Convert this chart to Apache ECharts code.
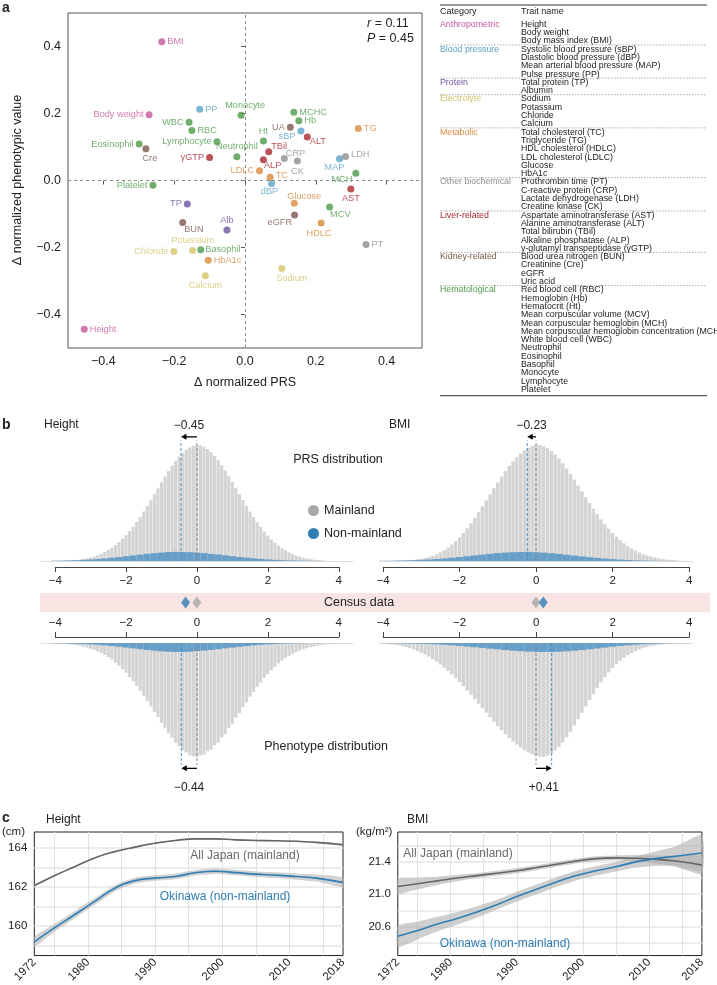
<!DOCTYPE html>
<html><head><meta charset="utf-8"><title>Figure</title>
<script src="https://cdn.jsdelivr.net/npm/echarts@6.0.0/dist/echarts.min.js"></script>
<style>html,body{margin:0;padding:0;background:#fff;}#chart{width:717px;height:985px;}</style>
</head><body><div id="chart"></div>
<script>
// ---------------- Panel a data ----------------
const catNames = ['Anthropometric','Blood pressure','Protein','Electrolyte','Metabolic','Other biochemical','Liver-related','Kidney-related','Hematological'];
const catColors = ['#c4579a','#5aa3c5','#6d52a1','#d3c46c','#da8a3c','#8e8e8e','#a9282c','#7c574d','#4e9a48'];
const traitNames = ['Height','Body weight','BMI','sBP','dBP','MAP','PP','TP','Alb','Sodium','Potassium','Chloride','Calcium','TC','TG','HDLC','LDLC','Glucose','HbA1c','PT','CRP','LDH','CK','AST','ALT','TBil','ALP','γGTP','BUN','Cre','eGFR','UA','RBC','Hb','Ht','MCV','MCH','MCHC','WBC','Neutrophil','Eosinophil','Basophil','Monocyte','Lymphocyte','Platelet'];
const traitFullNames = ['Height','Body weight','Body mass index (BMI)','Systolic blood pressure (sBP)','Diastolic blood pressure (dBP)','Mean arterial blood pressure (MAP)','Pulse pressure (PP)','Total protein (TP)','Albumin','Sodium','Potassium','Chloride','Calcium','Total cholesterol (TC)','Triglyceride (TG)','HDL cholesterol (HDLC)','LDL cholesterol (LDLC)','Glucose','HbA1c','Prothrombin time (PT)','C-reactive protein (CRP)','Lactate dehydrogenase (LDH)','Creatine kinase (CK)','Aspartate aminotransferase (AST)','Alanine aminotransferase (ALT)','Total bilirubin (TBil)','Alkaline phosphatase (ALP)','γ-glutamyl transpeptidase (γGTP)','Blood urea nitrogen (BUN)','Creatinine (Cre)','eGFR','Uric acid','Red blood cell (RBC)','Hemoglobin (Hb)','Hematocrit (Ht)','Mean corpuscular volume (MCV)','Mean corpuscular hemoglobin (MCH)','Mean corpuscular hemoglobin concentration (MCHC)','White blood cell (WBC)','Neutrophil','Eosinophil','Basophil','Monocyte','Lymphocyte','Platelet'];
const traitCat = [0,0,0,1,1,1,1,2,2,3,3,3,3,4,4,4,4,4,4,5,5,5,5,6,6,6,6,6,7,7,7,7,8,8,8,8,8,8,8,8,8,8,8,8,8];
const deltaPRS = [-0.454,-0.271,-0.235,0.158,0.075,0.267,-0.128,-0.163,-0.051,0.104,-0.148,-0.201,-0.112,0.071,0.320,0.215,0.041,0.139,-0.104,0.342,0.111,0.284,0.148,0.299,0.176,0.067,0.052,-0.100,-0.176,-0.280,0.140,0.128,-0.150,0.152,0.052,0.239,0.313,0.138,-0.158,-0.023,-0.299,-0.125,-0.011,-0.079,-0.260];
const deltaPheno = [-0.444,0.196,0.414,0.148,-0.009,0.065,0.213,-0.070,-0.148,-0.263,-0.209,-0.212,-0.284,0.010,0.155,-0.127,0.029,-0.068,-0.238,-0.191,0.066,0.072,0.058,-0.025,0.130,0.086,0.062,0.069,-0.125,0.095,-0.103,0.159,0.149,0.178,0.118,-0.079,0.022,0.204,0.174,0.071,0.109,-0.207,0.195,0.116,-0.014];
const scatterTicks = [-0.4,-0.2,0,0.2,0.4];
const statR = '0.11', statP = '0.45';

// ---------------- Panel b data ----------------
const grayBins = [-4.0,-3.9,-3.8,-3.7,-3.6,-3.5,-3.4,-3.3,-3.2,-3.1,-3.0,-2.9,-2.8,-2.7,-2.6,-2.5,-2.4,-2.3,-2.2,-2.1,-2.0,-1.9,-1.8,-1.7,-1.6,-1.5,-1.4,-1.3,-1.2,-1.1,-1.0,-0.9,-0.8,-0.7,-0.6,-0.5,-0.4,-0.3,-0.2,-0.1,0.0,0.1,0.2,0.3,0.4,0.5,0.6,0.7,0.8,0.9,1.0,1.1,1.2,1.3,1.4,1.5,1.6,1.7,1.8,1.9,2.0,2.1,2.2,2.3,2.4,2.5,2.6,2.7,2.8,2.9,3.0,3.1,3.2,3.3,3.4,3.5,3.6,3.7,3.8,3.9,4.0];
const blueBins = [-4.0,-3.8,-3.6,-3.4,-3.2,-3.0,-2.8,-2.6,-2.4,-2.2,-2.0,-1.8,-1.6,-1.4,-1.2,-1.0,-0.8,-0.6,-0.4,-0.2,0.0,0.2,0.4,0.6,0.8,1.0,1.2,1.4,1.6,1.8,2.0,2.2,2.4,2.6,2.8,3.0,3.2,3.4,3.6,3.8,4.0];
const heightPrsMainland = [0,0,0,0.3,0.4,0.6,0.9,1.2,1.7,2.3,3.0,3.9,5.0,6.3,7.8,9.5,11.5,13.8,16.3,19.2,22.3,25.8,29.6,33.6,38.0,42.6,47.4,52.4,57.5,62.6,67.8,72.8,77.6,82.2,86.3,90.0,93.2,95.9,97.9,99.3,100,99.6,98.4,96.5,93.8,90.6,86.8,82.6,78.0,73.2,68.2,63.0,57.8,52.6,47.5,42.6,37.9,33.4,29.3,25.4,21.9,18.7,15.8,13.3,11.0,9.1,7.4,6.0,4.8,3.7,2.9,2.2,1.6,1.2,0.8,0.5,0.3,0,0,0,0];
const heightPrsNonMainland = [0.3,0.4,0.5,0.7,1.0,1.3,1.7,2.2,2.8,3.4,4.1,4.8,5.5,6.2,6.8,7.3,7.7,7.9,7.8,7.6,7.3,6.8,6.2,5.6,4.9,4.2,3.5,2.9,2.3,1.8,1.4,1.0,0.7,0.5,0.4,0.3,0.2,0.1,0,0,0];
const bmiPrsMainland = [0,0,0,0,0.2,0.3,0.5,0.7,1.0,1.4,1.9,2.6,3.4,4.5,5.8,7.4,9.3,11.6,14.2,17.2,20.5,24.2,28.2,32.6,37.2,42.1,47.1,52.3,57.5,62.7,67.8,72.8,77.5,81.9,85.9,89.5,92.8,95.5,97.6,99.2,100,99.8,98.9,97.2,94.8,91.8,88.2,84.2,79.8,75.1,70.2,65.1,60.0,54.9,49.9,45.0,40.3,35.9,31.7,27.8,24.2,20.9,17.9,15.2,12.8,10.7,8.9,7.3,5.9,4.8,3.8,3.0,2.3,1.8,1.3,1.0,0.7,0.4,0.2,0,0];
const bmiPrsNonMainland = [0.2,0.3,0.4,0.5,0.7,1.0,1.3,1.7,2.2,2.8,3.4,4.1,4.8,5.5,6.2,6.8,7.3,7.6,7.8,7.9,7.6,7.2,6.7,6.1,5.4,4.7,4.0,3.3,2.7,2.1,1.6,1.2,0.9,0.6,0.4,0.3,0.2,0.1,0.1,0,0];
const heightPhenoMainland = [0.4,0.5,0.7,0.9,1.2,1.6,2.0,2.5,3.2,4.0,4.9,6.0,7.3,8.8,10.5,12.4,14.6,17.2,19.9,23.0,26.2,29.8,33.6,37.6,42.0,46.3,51.0,55.6,60.5,65.0,70.1,74.3,79.2,83.0,87.4,90.5,94.0,96.0,98.6,99.4,100,98.6,97.8,95.1,93.6,89.8,87.5,82.9,79.8,74.6,70.9,65.6,61.6,56.3,52.2,47.1,43.0,38.4,34.6,30.5,27.2,23.8,20.9,18.0,15.5,13.2,11.3,9.5,8.0,6.6,5.5,4.5,3.7,3.0,2.4,1.9,1.5,1.1,0.8,0.5,0.3];
const heightPhenoNonMainland = [0.2,0.3,0.5,0.7,0.9,1.2,1.6,2.1,2.7,3.3,4.0,4.7,5.4,6.1,6.8,7.3,7.7,7.9,7.9,7.6,7.2,6.7,6.1,5.4,4.7,4.0,3.3,2.7,2.1,1.6,1.2,0.9,0.6,0.4,0.3,0.2,0.1,0.1,0,0,0];
const bmiPhenoMainland = [0.5,0.8,1.1,1.5,2.0,2.7,3.5,4.5,5.6,6.9,8.4,10.1,12.0,14.1,16.4,18.9,21.6,24.5,27.6,30.9,34.3,37.9,41.6,45.4,49.3,53.2,57.2,61.2,65.1,69.0,72.8,76.5,80.0,83.3,86.4,89.2,91.8,94.1,96.1,97.8,99.1,99.9,99.8,98.8,97.0,94.5,91.2,87.3,82.8,77.8,72.5,67.0,61.3,55.6,50.0,44.6,39.4,34.5,30.0,25.8,22.0,18.6,15.6,13.0,10.7,8.8,7.1,5.7,4.5,3.6,2.8,2.2,1.7,1.3,1.0,0.7,0.5,0.4,0.3,0.2,0.1];
const bmiPhenoNonMainland = [0.1,0.2,0.3,0.4,0.5,0.7,0.9,1.2,1.6,2.0,2.5,3.1,3.7,4.3,5.0,5.6,6.2,6.8,7.2,7.6,7.8,7.9,7.9,7.7,7.3,6.8,6.2,5.5,4.8,4.0,3.3,2.6,2.0,1.5,1.1,0.8,0.5,0.3,0.2,0.1,0];
const grayBinWidth = 0.1, blueBinWidth = 0.2;
// mean shift of non-mainland vs mainland (mainland = 0)
const heightPrsShift = -0.45, bmiPrsShift = -0.23;
const heightPhenoShift = -0.44, bmiPhenoShift = 0.41;
const censusHeight = [0, -0.32];   // [mainland, non-mainland]
const censusBMI = [0, 0.19];

// ---------------- Panel c data ----------------
const years = [1972,1975,1978,1981,1984,1987,1990,1993,1996,1999,2002,2005,2008,2011,2014,2018];
const heightJapan = [162.07,162.57,163.03,163.48,163.80,164.03,164.23,164.37,164.45,164.45,164.40,164.37,164.35,164.33,164.27,164.15];
const heightJapanCI = [0.05,0.04,0.03,0.03,0.03,0.03,0.03,0.03,0.03,0.03,0.03,0.03,0.03,0.03,0.04,0.05];
const heightOkinawa = [159.2,159.91,160.58,161.26,161.93,162.32,162.45,162.53,162.72,162.80,162.73,162.65,162.60,162.53,162.45,162.23];
const heightOkinawaCI = [0.25,0.2,0.18,0.17,0.16,0.15,0.14,0.14,0.14,0.14,0.14,0.14,0.15,0.16,0.18,0.24];
const bmiJapan = [21.095,21.13,21.165,21.20,21.23,21.26,21.29,21.33,21.37,21.41,21.44,21.45,21.445,21.43,21.41,21.36];
const bmiJapanCI = [0.09,0.07,0.05,0.04,0.03,0.03,0.03,0.03,0.03,0.03,0.03,0.03,0.04,0.05,0.07,0.11];
const bmiOkinawa = [20.48,20.55,20.63,20.70,20.78,20.87,20.97,21.06,21.15,21.23,21.29,21.34,21.40,21.44,21.47,21.51];
const bmiOkinawaCI = [0.13,0.11,0.09,0.08,0.07,0.06,0.06,0.06,0.06,0.06,0.06,0.06,0.07,0.09,0.12,0.22];
const yearLabels = [1972,1980,1990,2000,2010,2018];
const yearGrid = [1975,1980,1985,1990,1995,2000,2005,2010,2015];
const heightTicks = [160,162,164];
const heightGrid = [159,160,161,162,163,164];
const bmiTicks = [20.6,21.0,21.4];
const bmiGrid = [20.4,20.6,20.8,21.0,21.2,21.4,21.6];

// ---------------- styling ----------------
const FF = 'Liberation Sans, Arial, Helvetica, sans-serif';
const GRAY_BAR = '#d4d4d4', BLUE_BAR = '#689fc9', BLUE = '#2e7db3', GRAY_DOT = '#a8a8a8';
const labelPlace = {
 'Height':['right',0,0],'Body weight':['left',0,0],'BMI':['right',0,0],
 'sBP':['left',0,6],'dBP':['bottom',-2,-2],'MAP':['bottom',-5,-1],'PP':['right',0,0],
 'TP':['left',0,0],'Alb':['top',0,0],
 'Sodium':['bottom',10,0],'Potassium':['top',0,0],'Chloride':['left',0,0],'Calcium':['bottom',0,0],
 'TC':['right',0,-2],'TG':['right',0,0],'HDLC':['bottom',-2,0],'LDLC':['left',0,0],'Glucose':['top',10,3],'HbA1c':['right',0,0],
 'PT':['right',0,0],'CRP':['right',-4,-5],'LDH':['right',0,-2],'CK':['bottom',0,0],
 'AST':['bottom',0,0],'ALT':['right',-3,5],'TBil':['right',-3,-5],'ALP':['right',-5,6],'γGTP':['left',0,0],
 'BUN':['right',-4,7],'Cre':['bottom',4,0],'eGFR':['left',3,7],'UA':['left',0,0],
 'RBC':['right',0,0],'Hb':['right',0,0],'Ht':['top',0,0],'MCV':['right',-5,7],'MCH':['left',2,6],'MCHC':['right',0,0],
 'WBC':['left',0,0],'Neutrophil':['top',0,0],'Eosinophil':['left',0,0],'Basophil':['right',-1,0],'Monocyte':['top',4,0],'Lymphocyte':['left',0,0],'Platelet':['left',0,0]
};
const minus = s => String(s).replace('-', '\u2212');
const fmt1 = v => minus(Number(v).toFixed(1));
const fmtInt = v => minus(Math.round(v));

const chart = echarts.init(document.getElementById('chart'), null, {renderer:'canvas'});

// grids
const HX = {min:-4.4, max:4.4, left:41, width:311.8};
const BX = {min:-4.1, max:4.1, left:379.2, width:313.6};
const PRS = {top:435.7, height:125.3, max:108};
const PHE = {top:643, height:126.5, max:111};
const grids = [
 {left:68, top:13, width:354, height:335, show:true, borderColor:'#555', borderWidth:1},          //0
 {left:HX.left, width:HX.width, top:PRS.top, height:PRS.height},                               //1
 {left:HX.left, width:HX.width, top:PRS.top, height:PRS.height},                               //2
 {left:BX.left, width:BX.width, top:PRS.top, height:PRS.height},                               //3
 {left:BX.left, width:BX.width, top:PRS.top, height:PRS.height},                               //4
 {left:HX.left, width:HX.width, top:PHE.top, height:PHE.height},                               //5
 {left:HX.left, width:HX.width, top:PHE.top, height:PHE.height},                               //6
 {left:BX.left, width:BX.width, top:PHE.top, height:PHE.height},                               //7
 {left:BX.left, width:BX.width, top:PHE.top, height:PHE.height},                               //8
 {left:55.3, width:283.5, top:547, height:20},                                                 //9
 {left:383.2, width:305.9, top:547, height:20},                                                //10
 {left:55.3, width:283.5, top:637, height:20},                                                 //11
 {left:383.2, width:305.9, top:637, height:20},                                                //12
 {left:40, top:593, width:670, height:19, show:true, backgroundColor:'#f9e4e4', borderWidth:0}, //13
 {left:HX.left, width:HX.width, top:593, height:19},                                           //14
 {left:BX.left, width:BX.width, top:593, height:19},                                           //15
 {left:34.3, top:832, width:308.7, height:126, show:true, borderColor:'#222', borderWidth:1},   //16
 {left:397.8, top:832, width:304.1, height:126, show:true, borderColor:'#222', borderWidth:1}   //17
];
const xAxes = [], yAxes = [];
// 0 scatter
xAxes.push({gridIndex:0, type:'value', min:-0.5, max:0.5, axisLine:{show:false}, splitLine:{show:false},
  axisTick:{show:true, length:4, lineStyle:{color:'#555'}, customValues:scatterTicks},
  axisLabel:{customValues:scatterTicks, formatter:fmt1, fontSize:12.5, color:'#222', margin:7, fontFamily:FF}});
yAxes.push({gridIndex:0, type:'value', min:-0.5, max:0.5, axisLine:{show:false}, splitLine:{show:false},
  axisTick:{show:true, length:4, lineStyle:{color:'#555'}, customValues:scatterTicks},
  axisLabel:{customValues:scatterTicks, formatter:fmt1, fontSize:12.5, color:'#222', margin:7, fontFamily:FF}});
// 1..8 histograms
const histDefs = [[HX,PRS,false,true],[HX,PRS,false,false],[BX,PRS,false,true],[BX,PRS,false,false],
                  [HX,PHE,true,true],[HX,PHE,true,false],[BX,PHE,true,true],[BX,PHE,true,false]];
histDefs.forEach((d,i)=>{
  const g = i+1;
  xAxes.push({gridIndex:g, type:'value', min:d[0].min, max:d[0].max,
    axisLine:{show:d[3], onZero:true, lineStyle:{color:'#dedede', width:1}}, axisTick:{show:false}, axisLabel:{show:false}, splitLine:{show:false}});
  yAxes.push({gridIndex:g, type:'value', min:0, max:d[1].max, inverse:d[2], show:false});
});
// 9..12 tick axes
[['bottom',9],['bottom',10],['top',11],['top',12]].forEach(([pos,g])=>{
  xAxes.push({gridIndex:g, type:'value', min:-4, max:4, interval:2, position:pos,
    axisLine:{show:true, onZero:false, lineStyle:{color:'#444', width:1}},
    axisTick:{show:true, length:5, lineStyle:{color:'#444'}},
    axisLabel:{fontSize:11.5, color:'#222', margin:8, formatter:fmtInt, fontFamily:FF}, splitLine:{show:false}});
  yAxes.push({gridIndex:g, type:'value', min:0, max:1, show:false});
});
// 13 census background
xAxes.push({gridIndex:13, type:'value', min:0, max:1, show:false}); yAxes.push({gridIndex:13, type:'value', min:0, max:1, show:false});
// 14,15 census diamonds
xAxes.push({gridIndex:14, type:'value', min:HX.min, max:HX.max, show:false}); yAxes.push({gridIndex:14, type:'value', min:0, max:1, show:false});
xAxes.push({gridIndex:15, type:'value', min:BX.min, max:BX.max, show:false}); yAxes.push({gridIndex:15, type:'value', min:0, max:1, show:false});
// 16,17 line charts
[[16,158.5,164.8,heightTicks,heightGrid,v=>String(Math.round(v))],[17,20.24,21.77,bmiTicks,bmiGrid,v=>Number(v).toFixed(1)]].forEach(([g,mn,mx,tk,gr,f])=>{
  xAxes.push({gridIndex:g, type:'value', min:1972, max:2018, axisLine:{show:false},
    axisTick:{show:false, customValues:yearGrid},
    splitLine:{show:true, lineStyle:{color:'#e2e2e2', width:1}},
    axisLabel:{customValues:yearLabels, formatter:v=>String(v), rotate:45, fontSize:11.5, color:'#222', margin:5, fontFamily:FF}});
  yAxes.push({gridIndex:g, type:'value', min:mn, max:mx, axisLine:{show:false},
    axisTick:{show:false, customValues:gr},
    splitLine:{show:true, lineStyle:{color:'#e6e6e6', width:1.6}},
    axisLabel:{customValues:tk, formatter:f, fontSize:11.5, color:'#222', margin:7, fontFamily:FF}});
});

// series
const series = [];
series.push({type:'scatter', xAxisIndex:0, yAxisIndex:0, symbolSize:7, z:5,
  data: traitNames.map((n,i)=>{
    const p = labelPlace[n] || ['right',0,0];
    const col = catColors[traitCat[i]];
    return {name:n, value:[deltaPRS[i], deltaPheno[i]], itemStyle:{color:col},
      label:{show:true, formatter:'{b}', position:p[0], offset:[p[1],p[2]], color:col, fontSize:9.2, distance:2, fontFamily:FF}};
  }),
  markLine:{silent:true, symbol:['none','none'], label:{show:false}, animation:false,
    lineStyle:{type:[3,3], color:'#8a8a8a', width:1}, data:[{xAxis:0},{yAxis:0}]}
});
// histogram bars drawn through the axes' scales
function histSeries(g, bins, vals, name, binW, frac, color) {
  series.push({type:'custom', name, xAxisIndex:g, yAxisIndex:g, silent:true, z:2,
    encode:{x:0, y:1},
    data: bins.map((b,i)=>[b, vals[i]]),
    renderItem:(params, api)=>{
      const x = api.value(0), v = api.value(1);
      if (!v) return null;
      const a = api.coord([x - binW*frac/2, 0]), b = api.coord([x + binW*frac/2, v]);
      return {type:'rect', shape:{x:a[0], y:Math.min(a[1],b[1]), width:b[0]-a[0], height:Math.abs(b[1]-a[1])}, style:{fill:color}};
    }});
}
histSeries(1, grayBins, heightPrsMainland, 'Mainland', grayBinWidth, 0.9, GRAY_BAR);
histSeries(2, blueBins, heightPrsNonMainland, 'Non-mainland', blueBinWidth, 1.0, BLUE_BAR);
histSeries(3, grayBins, bmiPrsMainland, 'Mainland', grayBinWidth, 0.9, GRAY_BAR);
histSeries(4, blueBins, bmiPrsNonMainland, 'Non-mainland', blueBinWidth, 1.0, BLUE_BAR);
histSeries(5, grayBins, heightPhenoMainland, 'Mainland', grayBinWidth, 0.9, GRAY_BAR);
histSeries(6, blueBins, heightPhenoNonMainland, 'Non-mainland', blueBinWidth, 1.0, BLUE_BAR);
histSeries(7, grayBins, bmiPhenoMainland, 'Mainland', grayBinWidth, 0.9, GRAY_BAR);
histSeries(8, blueBins, bmiPhenoNonMainland, 'Non-mainland', blueBinWidth, 1.0, BLUE_BAR);
// dashed mean lines
[[2,heightPrsShift,104],[4,bmiPrsShift,104],[6,heightPhenoShift,107],[8,bmiPhenoShift,107]].forEach(([g,sh,top])=>{
  series.push({type:'line', name:'mean-m', xAxisIndex:g, yAxisIndex:g, showSymbol:false, silent:true, z:6,
    lineStyle:{color:'#888', width:1, type:[3,2]}, data:[[0,0],[0,top]]});
  series.push({type:'line', name:'mean-n', xAxisIndex:g, yAxisIndex:g, showSymbol:false, silent:true, z:6,
    lineStyle:{color:'#4a8fc0', width:1, type:[3,2]}, data:[[sh,0],[sh,top]]});
});
// census diamonds
[[14,censusHeight],[15,censusBMI]].forEach(([g,c])=>{
  series.push({type:'scatter', xAxisIndex:g, yAxisIndex:g, symbol:'diamond', symbolSize:[9,12], silent:true,
    data:[{value:[c[0],0.5], itemStyle:{color:GRAY_DOT}}, {value:[c[1],0.5], itemStyle:{color:BLUE}}]});
});
// line charts with CI bands
function band(g, center, ci, fill) {
  series.push({type:'custom', xAxisIndex:g, yAxisIndex:g, silent:true, z:1,
    data:[[years[0], center[0]]], encode:{x:0, y:1},
    renderItem:(params, api)=>{
      const up = years.map((y,i)=>api.coord([y, center[i]+ci[i]]));
      const lo = years.map((y,i)=>api.coord([y, center[i]-ci[i]])).reverse();
      return {type:'polygon', shape:{points: up.concat(lo), smooth:0.2}, style:{fill}};
    }});
}
function line(g, center, color) {
  series.push({type:'line', xAxisIndex:g, yAxisIndex:g, smooth:true, showSymbol:false, silent:true, z:4,
    lineStyle:{color, width:1.6}, data: years.map((y,i)=>[y, center[i]])});
}
band(16, heightJapan, heightJapanCI, 'rgba(180,180,180,0.6)');
band(16, heightOkinawa, heightOkinawaCI, 'rgba(180,180,180,0.6)');
line(16, heightJapan, '#666666');
line(16, heightOkinawa, BLUE);
band(17, bmiJapan, bmiJapanCI, 'rgba(175,175,175,0.6)');
band(17, bmiOkinawa, bmiOkinawaCI, 'rgba(175,175,175,0.6)');
line(17, bmiJapan, '#666666');
line(17, bmiOkinawa, BLUE);

chart.setOption({
  animation:false,
  textStyle:{fontFamily:FF},
  grid:grids, xAxis:xAxes, yAxis:yAxes, series,
  legend:{data:[{name:'Mainland', itemStyle:{color:GRAY_DOT}},{name:'Non-mainland', itemStyle:{color:BLUE}}],
    icon:'circle', orient:'vertical', left:303, top:499, itemWidth:11, itemHeight:11, itemGap:10,
    selectedMode:false, textStyle:{fontSize:12.5, color:'#222', fontFamily:FF}}
});

// ---------------- text / annotations ----------------
function T(text, x, y, o) {
  o = o || {};
  const st = {text, x:0, y:0, fill:o.color||'#222', fontSize:o.size||12, fontFamily:FF,
    fontWeight:o.weight||'normal', fontStyle:o.italic?'italic':'normal',
    align:o.align||'center', verticalAlign:o.valign||'middle',
    textAlign:o.align||'center', textVerticalAlign:o.valign||'middle'};
  if (o.rich) st.rich = o.rich;
  return {type:'text', x, y, rotation:o.rotation||0, z:100, silent:true, style:st};
}
function hline(x1,y,x2,stroke,w,dash){ return {type:'line', silent:true, z:100, shape:{x1,y1:y,x2,y2:y}, style:{stroke, lineWidth:w, lineDash:dash||null}}; }
function arrow(x1, y, x2) {
  const dir = Math.sign(x2 - x1) || 1;
  return [
    {type:'line', silent:true, z:100, shape:{x1, y1:y, x2:x2 - dir*3, y2:y}, style:{stroke:'#000', lineWidth:1.3}},
    {type:'polygon', silent:true, z:100, shape:{points:[[x2,y],[x2-dir*5.5,y-3],[x2-dir*5.5,y+3]]}, style:{fill:'#000'}}
  ];
}
const G = [];
// panel labels
G.push(T('a', 2, 8, {size:14, weight:'bold', align:'left'}));
G.push(T('b', 2, 425, {size:14, weight:'bold', align:'left'}));
G.push(T('c', 2, 818, {size:14, weight:'bold', align:'left'}));
// panel a
G.push(T('\u0394 normalized PRS', 245, 383, {size:12.5}));
G.push(T('\u0394 normalized phenotypic value', 18, 180, {size:12.5, rotation:Math.PI/2}));
const rich = {i:{fontStyle:'italic', fontSize:12.5, fontFamily:FF, fill:'#222'}};
G.push(T('{i|r} = ' + statR, 367, 24, {size:12.5, align:'left', rich}));
G.push(T('{i|P} = ' + statP, 367, 39, {size:12.5, align:'left', rich}));
// table
G.push(hline(440,5,707,'#333',1));
G.push(T('Category',440,12,{size:9,align:'left'}));
G.push(T('Trait name',521,12,{size:9,align:'left'}));
let prevCat = -1;
traitFullNames.forEach((nm,i)=>{
  const y = 24.3 + i*8.3;
  const c = traitCat[i];
  if (c !== prevCat) {
    if (prevCat >= 0) G.push(hline(440, y-4.3, 707, '#9a9a9a', 0.8, [1.5,1.5]));
    G.push(T(catNames[c],440,y,{size:8.8,align:'left',color:catColors[c]}));
    prevCat = c;
  }
  G.push(T(nm,521,y,{size:8.8,align:'left'}));
});
G.push(hline(440,395.7,707,'#333',1));
// panel b
G.push(T('Height', 44, 425, {size:12, align:'left'}));
G.push(T('BMI', 389, 425, {size:12, align:'left'}));
G.push(T('PRS distribution', 338, 460, {size:12.5}));
G.push(T('Phenotype distribution', 326, 747, {size:12.5}));
G.push(T('Census data', 359, 603, {size:12.5}));
const px = (g, x, y) => chart.convertToPixel({xAxisIndex:g, yAxisIndex:g}, [x, y]);
[[1,heightPrsShift,107,-11],[3,bmiPrsShift,107,-11],[5,heightPhenoShift,110,19],[7,bmiPhenoShift,110,19]].forEach(([g,sh,yv,dy])=>{
  const a = px(g, 0, yv), b = px(g, sh, yv);
  arrow(a[0], a[1], b[0]).forEach(e=>G.push(e));
  const txt = (sh > 0 ? '+' : '\u2212') + Math.abs(sh).toFixed(2);
  G.push(T(txt, (a[0]+b[0])/2, a[1]+dy, {size:12}));
});
// panel c
G.push(T('Height', 46, 820, {size:12, align:'left'}));
G.push(T('BMI', 407, 820, {size:12, align:'left'}));
G.push(T('(cm)', 2, 832, {size:11.5, align:'left'}));
G.push(T('(kg/m\u00B2)', 356, 832, {size:11.5, align:'left'}));
G.push(T('All Japan (mainland)', 245, 856, {size:12, color:'#6a6a6a'}));
G.push(T('Okinawa (non-mainland)', 225, 897, {size:12, color:BLUE}));
G.push(T('All Japan (mainland)', 458, 854, {size:12, color:'#6a6a6a'}));
G.push(T('Okinawa (non-mainland)', 505, 944, {size:12, color:BLUE}));

chart.setOption({graphic:{elements:G}});
</script></body></html>
